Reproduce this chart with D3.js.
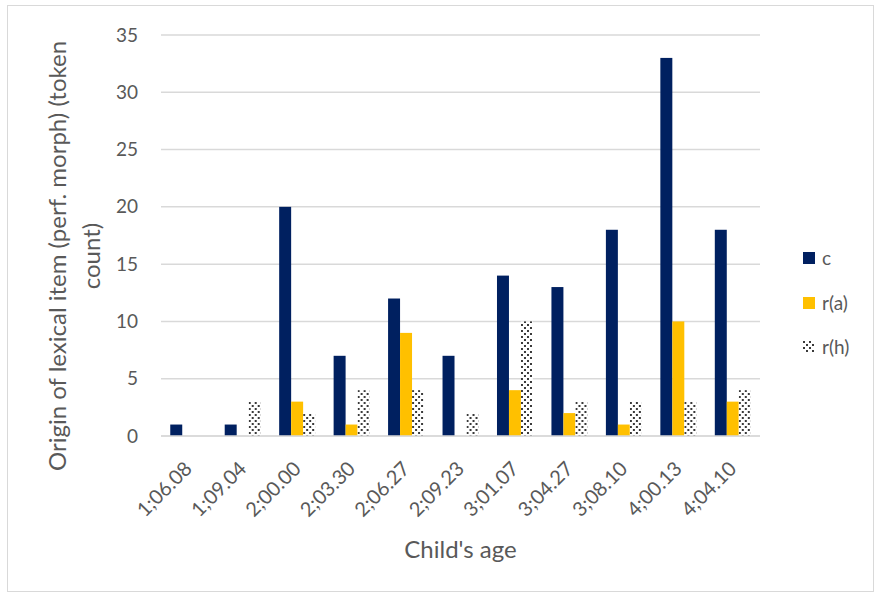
<!DOCTYPE html>
<html>
<head>
<meta charset="utf-8">
<script src="https://cdn.jsdelivr.net/npm/d3@7"></script>
<style>
  html, body { margin: 0; padding: 0; background: #fff; }
  svg { display: block; }
  text { font-family: Lato, "Open Sans", sans-serif; fill: #595959; }
</style>
</head>
<body>
<svg id="chart" width="877" height="595"></svg>
<script>
const categories = ["1;06.08","1;09.04","2;00.00","2;03.30","2;06.27","2;09.23","3;01.07","3;04.27","3;08.10","4;00.13","4;04.10"];
const seriesNames = ["c","r(a)","r(h)"];
const cValues  = [1, 1, 20, 7, 12, 7, 14, 13, 18, 33, 18];
const raValues = [0, 0, 3, 1, 9, 0, 4, 2, 1, 10, 3];
const rhValues = [0, 3, 2, 4, 4, 2, 10, 3, 3, 3, 4];
const yTicks = [0, 5, 10, 15, 20, 25, 30, 35];

const seriesValues = [cValues, raValues, rhValues];
const fills = ["#002060", "#FFC000", "url(#dots)"];

const svg = d3.select("#chart");

// pattern for r(h)
const defs = svg.append("defs");
const pat = defs.append("pattern").attr("id", "dots")
  .attr("patternUnits", "userSpaceOnUse").attr("width", 6).attr("height", 6);
pat.append("rect").attr("width", 6).attr("height", 6).attr("fill", "#fff");
pat.append("rect").attr("x", 0).attr("y", 0).attr("width", 2).attr("height", 2).attr("fill", "#3a3a3a");
pat.append("rect").attr("x", 3).attr("y", 3).attr("width", 2).attr("height", 2).attr("fill", "#3a3a3a");

// outer border
svg.append("rect").attr("x", 7.5).attr("y", 5.5).attr("width", 866).attr("height", 586)
  .attr("fill", "none").attr("stroke", "#d9d9d9").attr("stroke-width", 1);

const pLeft = 161, pRight = 760, pTop = 35, pBottom = 436;

const x0 = d3.scaleBand().domain(categories).range([pLeft, pRight]).paddingInner(0.34).paddingOuter(0.17);
const x1 = d3.scaleBand().domain(seriesNames).range([0, x0.bandwidth()]).padding(0);
const y = d3.scaleLinear().domain([0, 35]).range([pBottom, pTop]);

// gridlines
svg.append("g").selectAll("line").data(yTicks).join("line")
  .attr("x1", pLeft).attr("x2", pRight)
  .attr("y1", d => y(d)).attr("y2", d => y(d))
  .attr("stroke", "#d9d9d9").attr("stroke-width", 1.5);

// y axis labels
const yAxis = d3.axisLeft(y).tickValues(yTicks).tickSize(0).tickPadding(0);
const yg = svg.append("g").attr("transform", `translate(${pLeft - 23},0)`).call(yAxis);
yg.select(".domain").remove();
yg.selectAll("text").style("font-size", "19px").attr("fill", "#595959")
  .style("font-family", "Lato, sans-serif");

// bars
const groups = svg.append("g").selectAll("g").data(categories).join("g")
  .attr("transform", d => `translate(${x0(d)},0)`);
groups.selectAll("rect").data((d, i) => seriesNames.map((s, j) => ({s, v: seriesValues[j][i], j})))
  .join("rect")
  .attr("x", d => x1(d.s))
  .attr("width", x1.bandwidth())
  .attr("y", d => y(d.v))
  .attr("height", d => y(0) - y(d.v))
  .attr("fill", d => fills[d.j]);

// x axis line
svg.append("line").attr("x1", pLeft).attr("x2", pRight).attr("y1", pBottom).attr("y2", pBottom)
  .attr("stroke", "#d9d9d9").attr("stroke-width", 1.5);

// x axis labels
const xAxis = d3.axisBottom(x0).tickSize(0).tickPadding(0);
const xg = svg.append("g").attr("transform", `translate(0,${pBottom})`).call(xAxis);
xg.select(".domain").remove();
xg.selectAll("text")
  .style("font-size", "20px").style("font-family", "Lato, sans-serif").attr("fill", "#595959")
  .attr("text-anchor", "end")
  .attr("dy", "0.35em")
  .attr("transform", "translate(0,29) rotate(-45)")
  .attr("y", 0).attr("x", 0);

// axis titles
svg.append("text").attr("x", (pLeft + pRight) / 2).attr("y", 558)
  .attr("text-anchor", "middle").style("font-size", "24px").text("Child's age");

const yt = svg.append("text").attr("transform", "translate(75,256) rotate(-90)")
  .attr("text-anchor", "middle").style("font-size", "24px");
yt.append("tspan").attr("x", 0).attr("y", -17).attr("dy", "0.35em").text("Origin of lexical item (perf. morph) (token");
yt.append("tspan").attr("x", 0).attr("y", 17).attr("dy", "0.35em").text("count)");

// legend
const legY = [258, 303, 347];
const leg = svg.append("g").selectAll("g").data(seriesNames).join("g")
  .attr("transform", (d, i) => `translate(803,${legY[i]})`);
leg.append("rect").attr("x", 0).attr("y", -6).attr("width", 12).attr("height", 12)
  .attr("fill", (d, i) => fills[i]);
leg.append("text").attr("x", 19).attr("y", 0).attr("dy", "0.35em")
  .style("font-size", "19px").text(d => d);
</script>
</body>
</html>
